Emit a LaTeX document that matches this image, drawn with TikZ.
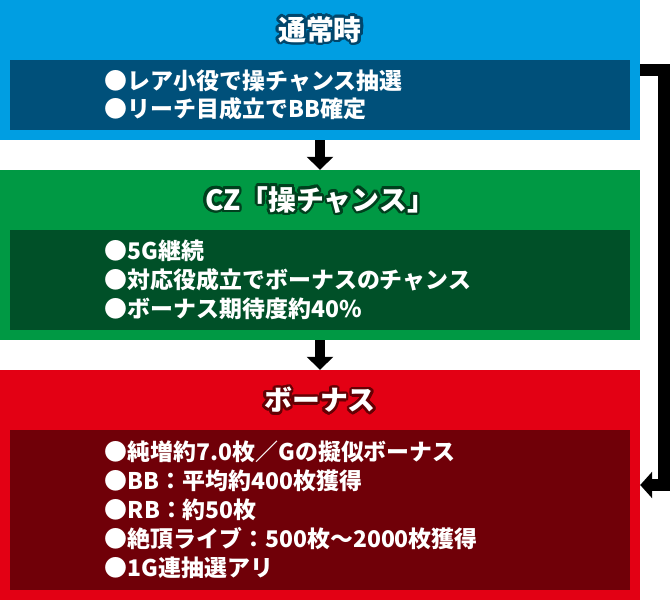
\documentclass[tikz,border=0pt]{standalone}
\usepackage{fontspec}
\setmainfont{Noto Sans CJK JP}
\usepackage{contour}
\usetikzlibrary{arrows.meta}
\definecolor{nrm_bg}{HTML}{009EE2}
\definecolor{nrm_in}{HTML}{00507A}
\definecolor{nrm_ln}{HTML}{00466C}
\definecolor{cz_bg}{HTML}{009944}
\definecolor{cz_in}{HTML}{005028}
\definecolor{cz_ln}{HTML}{00401E}
\definecolor{bn_bg}{HTML}{E30014}
\definecolor{bn_in}{HTML}{700008}
\definecolor{bn_ln}{HTML}{640004}
\contourlength{2.6pt}
\contournumber{20}
\tikzset{
  stage/.style = {inner sep=0pt, minimum width=640bp},% bloc de couleur
  stage_in/.style = {align=left, inner ysep=0pt, inner xsep=95bp,
    text width=430bp, text=white, font=\bfseries\fontsize{23}{29}\selectfont},% cadre du texte
  stage_t/.style = {inner sep=0pt, text=white,
    font=\bfseries\fontsize{28}{28}\selectfont},% titre
  flow/.style = {line width=10bp, -{Triangle[width=26bp,length=13bp]}},
  back/.style = {line width=12bp, -{Triangle[width=26bp,length=12bp]}}
}
\begin{document}
\begin{tikzpicture}[x=1bp,y=-1bp]
\useasboundingbox (0,0) rectangle (670,600);
% blocs
\node [stage, fill=nrm_bg, minimum height=140bp] (N) at (320,70) {};
\node [stage, fill=cz_bg, minimum height=170bp] (C) at (320,255) {};
\node [stage, fill=bn_bg, minimum height=230bp] (B) at (320,485) {};

\node [stage_t] (Nt) at (320,31) {\contour{nrm_ln}{通常時}};
\node [stage_t] (Ct) at (320,201) {\contour{cz_ln}{CZ「操チャンス」}};
\node [stage_t] (Bt) at (320,401) {\contour{bn_ln}{ボーナス}};

\node [stage_in, fill=nrm_in, minimum height=70bp] (Ni) at (320,95)
  {●レア小役で操チャンス抽選\\●リーチ目成立でBB確定};
\node [stage_in, fill=cz_in, minimum height=100bp] (Ci) at (320,280)
  {●5G継続\\●対応役成立でボーナスのチャンス\\●ボーナス期待度約40\%};
\node [stage_in, fill=bn_in, minimum height=160bp] (Bi) at (320,510)
  {●純増約7.0枚／Gの擬似ボーナス\\●BB：平均約400枚獲得\\●RB：約50枚\\●絶頂ライブ：500枚～2000枚獲得\\●1G連抽選アリ};

% fleches
\draw [flow] (N.south) -- (C.north);
\draw [flow] (C.south) -- (B.north);
\draw [back] (N.east) -- ++(24,0) |- (B.east);
\end{tikzpicture}
\end{document}
